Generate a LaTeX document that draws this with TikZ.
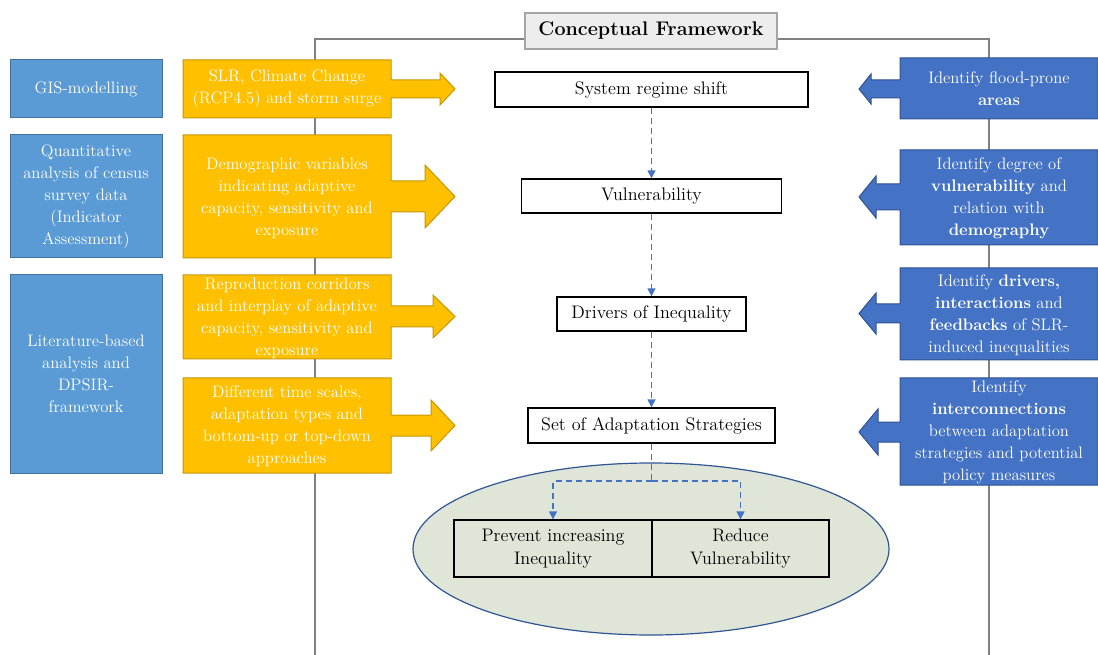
\documentclass[tikz,border=0pt]{standalone}
\usepackage{fontspec}
\usepackage{xcolor}
\usepackage{tikz}
\usetikzlibrary{arrows.meta}

\begin{document}
\begin{tikzpicture}[x=0.75pt,y=0.75pt,yscale=-1,xscale=1,
  txt/.style={align=center, inner sep=0pt, font=\fontsize{12.5}{16.5}\selectfont},
  whitetxt/.style={txt, text=white},
  leftbox/.style={whitetxt, fill={rgb, 255:red, 91; green, 155; blue, 213}, draw={rgb, 255:red, 65; green, 113; blue, 156}, line width=0.75pt},
  yellowcall/.style={fill={rgb, 255:red, 255; green, 192; blue, 0}, draw={rgb, 255:red, 200; green, 150; blue, 0}, line width=0.75pt},
  bluecall/.style={fill={rgb, 255:red, 68; green, 114; blue, 196}, draw={rgb, 255:red, 47; green, 82; blue, 143}, line width=0.75pt},
  stage/.style={txt, font=\fontsize{13.6}{17.5}\selectfont, draw=black, fill=white, line width=1pt},
  outcome/.style={txt, font=\fontsize{13.6}{17.5}\selectfont, draw=black, line width=1pt},
  frameline/.style={draw={rgb, 255:red, 128; green, 128; blue, 128}, line width=0.9pt},
  flowline/.style={draw={rgb, 255:red, 68; green, 114; blue, 196}, line width=1.1pt, dash pattern=on 4.5pt off 3pt},
  flow/.style={flowline, -{Triangle[width=6pt,length=6pt]}}
]
\useasboundingbox (0,0) rectangle (1098,655);

% Title
\node[txt, font=\fontsize{14.8}{17}\selectfont\bfseries, fill={rgb, 255:red, 237; green, 237; blue, 237}, draw={rgb, 255:red, 165; green, 165; blue, 165}, line width=1.2pt, minimum width=189pt, minimum height=27pt] (title) at (651,31) {Conceptual Framework};

%Straight Lines
\draw[frameline] (title.west |- 0,39) -- (315,39) -- (315,655) ;
\draw[frameline] (title.east |- 0,39) -- (989,39) -- (989,655) ;

%Shape: Rectangle
\node[leftbox, minimum width=114pt, minimum height=43.5pt] (gis) at (86,89) {GIS-modelling};
\node[leftbox, minimum width=114pt, minimum height=92.25pt] (census) at (86,196.5) {Quantitative\\analysis of census\\survey data\\(Indicator\\Assessment)};
\node[leftbox, minimum width=114pt, minimum height=148.5pt] (lit) at (86,374) {Literature-based\\analysis and\\DPSIR-\\framework};

%Shape: Right Arrow Callout
\draw[yellowcall] (183,60) -- (391,60) -- (391,80) -- (440,80) -- (440,73) -- (455,89) -- (440,105) -- (440,98) -- (391,98) -- (391,118) -- (183,118) -- cycle ;
\draw[yellowcall] (183,135) -- (391,135) -- (391,181) -- (425,181) -- (425,165) -- (455,196.5) -- (425,228) -- (425,212) -- (391,212) -- (391,258) -- (183,258) -- cycle ;
\draw[yellowcall] (183,275) -- (391,275) -- (391,306) -- (433,306) -- (433,295) -- (455,316.5) -- (433,338) -- (433,327) -- (391,327) -- (391,359) -- (183,359) -- cycle ;
\draw[yellowcall] (183,378) -- (391,378) -- (391,415) -- (431,415) -- (431,400) -- (455,425.5) -- (431,451) -- (431,436) -- (391,436) -- (391,473) -- (183,473) -- cycle ;

% Text Node
\node[whitetxt] (slr) at (287,89) {SLR, Climate Change\\(RCP4.5) and storm surge};
\node[whitetxt] (demo) at (287,198) {Demographic variables\\indicating adaptive\\capacity, sensitivity and\\exposure};
\node[whitetxt] (corr) at (287,318) {Reproduction corridors\\and interplay of adaptive\\capacity, sensitivity and\\exposure};
\node[whitetxt] (scales) at (287,426) {Different time scales,\\adaptation types and\\bottom-up or top-down\\approaches};

%Shape: Left Arrow Callout
\draw[bluecall] (1098,58) -- (900,58) -- (900,80) -- (871,80) -- (871,74) -- (859,89) -- (871,104) -- (871,98) -- (900,98) -- (900,119) -- (1098,119) -- cycle ;
\draw[bluecall] (1098,150) -- (900,150) -- (900,184) -- (876,184) -- (876,176) -- (859,197) -- (876,218) -- (876,210) -- (900,210) -- (900,245) -- (1098,245) -- cycle ;
\draw[bluecall] (1098,268) -- (900,268) -- (900,304) -- (876,304) -- (876,293) -- (859,313.5) -- (876,334) -- (876,323) -- (900,323) -- (900,360) -- (1098,360) -- cycle ;
\draw[bluecall] (1098,378) -- (900,378) -- (900,422) -- (878,422) -- (878,409) -- (859,432) -- (878,455) -- (878,442) -- (900,442) -- (900,485) -- (1098,485) -- cycle ;

% Text Node
\node[whitetxt] (flood) at (999,89) {Identify flood-prone\\\textbf{areas}};
\node[whitetxt] (degree) at (999,198) {Identify degree of\\\textbf{vulnerability} and\\relation with\\\textbf{demography}};
\node[whitetxt] (drivers) at (999,315) {Identify \textbf{drivers,}\\\textbf{interactions} and\\\textbf{feedbacks} of SLR-\\induced inequalities};
\node[whitetxt] (inter) at (999,432.5) {Identify\\\textbf{interconnections}\\between adaptation\\strategies and potential\\policy measures};

%Shape: Ellipse
\draw[fill={rgb, 255:red, 223; green, 230; blue, 215}, draw={rgb, 255:red, 47; green, 85; blue, 151}, line width=0.9pt] (651,549) ellipse (238 and 86) ;

%Shape: Rectangle
\node[stage, minimum width=234.75pt, minimum height=26.25pt] (sys) at (651.5,89.5) {System regime shift};
\node[stage, minimum width=195pt, minimum height=25.5pt] (vul) at (651.5,196) {Vulnerability};
\node[stage, minimum width=141.75pt, minimum height=25.5pt] (drv) at (651.5,314) {Drivers of Inequality};
\node[stage, minimum width=185.25pt, minimum height=26.25pt] (set) at (651.5,425.5) {Set of Adaptation Strategies};
\node[outcome, minimum width=148.5pt, minimum height=42.75pt] (prev) at (553,548.5) {Prevent increasing\\Inequality};
\node[outcome, minimum width=132.75pt, minimum height=42.75pt] (red) at (740.5,548.5) {Reduce\\Vulnerability};

% Connection
\draw[flow] (sys.south) -- (sys.south |- vul.north) ;
\draw[flow] (vul.south) -- (vul.south |- drv.north) ;
\draw[flow] (drv.south) -- (drv.south |- set.north) ;
\coordinate (split) at (651.5,481) ;
\draw[flowline] (set.south) -- (split) ;
\draw[flow] (split) -| (prev.north) ;
\draw[flow] (split) -| (red.north) ;

\end{tikzpicture}
\end{document}
